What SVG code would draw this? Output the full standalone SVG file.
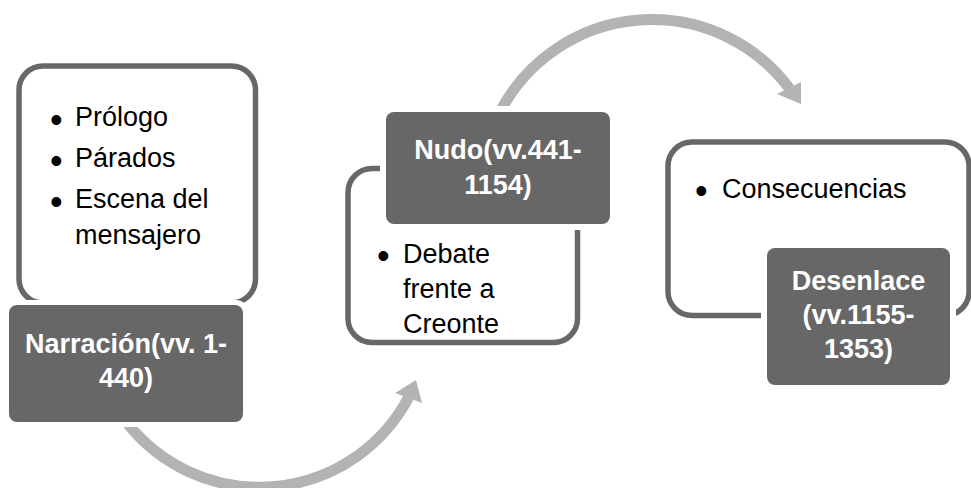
<svg xmlns="http://www.w3.org/2000/svg" width="971" height="488" viewBox="0 0 971 488">
<style>
.card{fill:#ffffff;stroke:#676767;stroke-width:5.5}
.halo{fill:#ffffff}
.head{fill:#676767}
.bt{font-family:"Liberation Sans",Arial,sans-serif;font-size:27px;fill:#000000}
.bu{font-family:"Liberation Sans",Arial,sans-serif;font-size:36px;fill:#000000}
.ht{font-family:"Liberation Sans",Arial,sans-serif;font-size:27px;font-weight:bold;fill:#ffffff;text-anchor:middle}
.arc{fill:none;stroke:#b3b3b3;stroke-width:11}
.tip{fill:#b3b3b3}
</style>
<rect width="971" height="488" fill="#ffffff"/>
<g id="connectors">
<path class="arc" d="M 501 110 A 171.5 171.5 0 0 1 789.5 88.5"/>
<polygon class="tip" points="777,94 801,82 801,104"/>
<path class="arc" d="M 128 424 A 168.5 168.5 0 0 0 408.5 397.5"/>
<polygon class="tip" points="395,393 422,403 416,380"/>
</g>
<g id="node-narracion">
<rect class="card" x="19" y="66" width="236.5" height="237" rx="24"/>
<text class="bu" x="50" y="132">•</text>
<text class="bt" x="75" y="126">Prólogo</text>
<text class="bu" x="50" y="173">•</text>
<text class="bt" x="75" y="167">Párados</text>
<text class="bu" x="50" y="214">•</text>
<text class="bt" x="75" y="208">Escena del</text>
<text class="bt" x="75" y="244">mensajero</text>
<rect class="halo" x="4" y="300" width="244" height="127" rx="12"/>
<rect class="head" x="9" y="305" width="234" height="117" rx="8"/>
<text class="ht" x="126" y="353">Narración(vv. 1-</text>
<text class="ht" x="126" y="387">440)</text>
</g>
<g id="node-nudo">
<rect class="card" x="348" y="168.5" width="229.5" height="174" rx="24"/>
<text class="bu" x="377" y="268">•</text>
<text class="bt" x="403" y="263">Debate</text>
<text class="bt" x="403" y="298">frente a</text>
<text class="bt" x="403" y="333">Creonte</text>
<rect class="halo" x="380" y="106" width="236" height="124" rx="12"/>
<rect class="head" x="386" y="112" width="224" height="112" rx="8"/>
<text class="ht" x="498" y="159">Nudo(vv.441-</text>
<text class="ht" x="498" y="194">1154)</text>
</g>
<g id="node-desenlace">
<rect class="card" x="668" y="142" width="301" height="173.5" rx="24"/>
<text class="bu" x="695" y="203">•</text>
<text class="bt" x="722" y="198">Consecuencias</text>
<rect class="halo" x="761" y="243" width="195" height="147" rx="12"/>
<rect class="head" x="767" y="248" width="183" height="137" rx="8"/>
<text class="ht" x="858.5" y="290">Desenlace</text>
<text class="ht" x="858.5" y="324">(vv.1155-</text>
<text class="ht" x="858.5" y="358">1353)</text>
</g>
</svg>
